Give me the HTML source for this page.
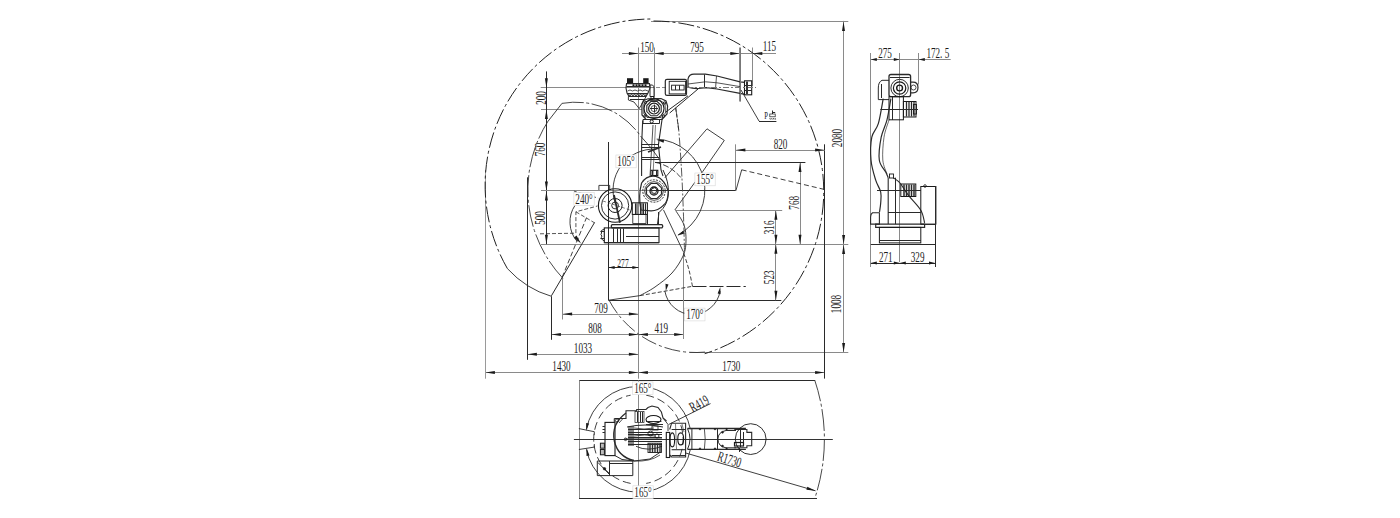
<!DOCTYPE html>
<html><head><meta charset="utf-8"><style>
html,body{margin:0;padding:0;background:#fff;width:1400px;height:518px;overflow:hidden}
svg{display:block}
text{font-family:"Liberation Serif",serif}
</style></head><body>
<svg width="1400" height="518" viewBox="0 0 1400 518" shape-rendering="geometricPrecision">
<line x1="622.0" y1="53.5" x2="776.0" y2="53.5" stroke="#8a8a8a" stroke-width="1.0"/>
<polygon points="638.4,53.5 628.9,55.0 628.9,52.0" fill="#1a1a1a"/>
<polygon points="654.2,53.5 663.7,52.0 663.7,55.0" fill="#1a1a1a"/>
<polygon points="739.8,53.5 730.3,55.0 730.3,52.0" fill="#1a1a1a"/>
<polygon points="752.8,53.5 762.3,52.0 762.3,55.0" fill="#1a1a1a"/>
<line x1="638.5" y1="47.5" x2="638.5" y2="378.7" stroke="#8a8a8a" stroke-width="1.0"/>
<line x1="654.5" y1="47.5" x2="654.5" y2="100.0" stroke="#8a8a8a" stroke-width="1.0"/>
<line x1="739.5" y1="47.5" x2="739.5" y2="101.5" stroke="#8a8a8a" stroke-width="1.0"/>
<line x1="752.5" y1="47.5" x2="752.5" y2="86.0" stroke="#8a8a8a" stroke-width="1.0"/>
<g transform="translate(647.0,47.3) rotate(0) scale(0.63,1)"><text x="0" y="4.9" text-anchor="middle" font-size="14.5" fill="#1a1a1a">150</text></g>
<g transform="translate(697.0,47.0) rotate(0) scale(0.63,1)"><text x="0" y="4.9" text-anchor="middle" font-size="14.5" fill="#1a1a1a">795</text></g>
<g transform="translate(769.5,46.5) rotate(0) scale(0.63,1)"><text x="0" y="4.9" text-anchor="middle" font-size="14.5" fill="#1a1a1a">115</text></g>
<line x1="651.0" y1="21.5" x2="848.3" y2="21.5" stroke="#8a8a8a" stroke-width="1.0"/>
<line x1="843.5" y1="20.9" x2="843.5" y2="352.5" stroke="#8a8a8a" stroke-width="1.0"/>
<polygon points="843.5,21.5 845.0,31.0 842.0,31.0" fill="#1a1a1a"/>
<polygon points="843.6,244.4 842.1,234.9 845.1,234.9" fill="#1a1a1a"/>
<polygon points="843.6,244.4 845.1,253.9 842.1,253.9" fill="#1a1a1a"/>
<polygon points="843.6,352.5 842.1,343.0 845.1,343.0" fill="#1a1a1a"/>
<g transform="translate(837.3,138.0) rotate(-90) scale(0.63,1)"><text x="0" y="4.9" text-anchor="middle" font-size="14.5" fill="#1a1a1a">2080</text></g>
<g transform="translate(836.3,304.0) rotate(-90) scale(0.63,1)"><text x="0" y="4.9" text-anchor="middle" font-size="14.5" fill="#1a1a1a">1008</text></g>
<line x1="541.0" y1="244.5" x2="848.3" y2="244.5" stroke="#8a8a8a" stroke-width="1.0"/>
<line x1="690.0" y1="352.5" x2="848.3" y2="352.5" stroke="#8a8a8a" stroke-width="1.0"/>
<line x1="540.7" y1="87.5" x2="650.0" y2="87.5" stroke="#8a8a8a" stroke-width="1.0"/>
<line x1="650.0" y1="87.5" x2="668.0" y2="87.5" stroke="#8a8a8a" stroke-width="1.0" stroke-dasharray="4,2"/>
<line x1="541.0" y1="109.5" x2="642.0" y2="109.5" stroke="#8a8a8a" stroke-width="1.0"/>
<line x1="546.5" y1="71.4" x2="546.5" y2="244.2" stroke="#2a2a2a" stroke-width="1.0"/>
<polygon points="546.4,87.8 544.9,78.3 547.9,78.3" fill="#1a1a1a"/>
<polygon points="546.4,109.4 547.9,118.9 544.9,118.9" fill="#1a1a1a"/>
<polygon points="546.4,190.9 544.9,181.4 547.9,181.4" fill="#1a1a1a"/>
<polygon points="546.4,190.9 547.9,200.4 544.9,200.4" fill="#1a1a1a"/>
<polygon points="546.4,244.2 544.9,234.7 547.9,234.7" fill="#1a1a1a"/>
<g transform="translate(540.6,98.0) rotate(-90) scale(0.63,1)"><text x="0" y="4.9" text-anchor="middle" font-size="14.5" fill="#1a1a1a">200</text></g>
<g transform="translate(540.4,149.5) rotate(-90) scale(0.63,1)"><text x="0" y="4.9" text-anchor="middle" font-size="14.5" fill="#1a1a1a">760</text></g>
<g transform="translate(540.4,218.0) rotate(-90) scale(0.63,1)"><text x="0" y="4.9" text-anchor="middle" font-size="14.5" fill="#1a1a1a">500</text></g>
<line x1="541.0" y1="190.5" x2="650.0" y2="190.5" stroke="#8a8a8a" stroke-width="1.0"/>
<line x1="650.0" y1="190.5" x2="736.0" y2="190.5" stroke="#2a2a2a" stroke-width="1.0"/>
<line x1="608.6" y1="267.5" x2="638.4" y2="267.5" stroke="#2a2a2a" stroke-width="1.0"/>
<polygon points="608.6,267.5 614.6,266.0 614.6,269.0" fill="#1a1a1a"/>
<polygon points="638.4,267.5 632.4,269.0 632.4,266.0" fill="#1a1a1a"/>
<g transform="translate(623.0,262.8) rotate(0) scale(0.63,1)"><text x="0" y="4.1" text-anchor="middle" font-size="12" fill="#1a1a1a">277</text></g>
<line x1="608.5" y1="142.0" x2="608.5" y2="300.2" stroke="#2a2a2a" stroke-width="1.0"/>
<line x1="608.6" y1="300.5" x2="781.3" y2="300.5" stroke="#2a2a2a" stroke-width="1.0"/>
<line x1="562.6" y1="314.5" x2="638.4" y2="314.5" stroke="#8a8a8a" stroke-width="1.0"/>
<polygon points="562.6,314.1 572.1,312.6 572.1,315.6" fill="#1a1a1a"/>
<polygon points="638.4,314.1 628.9,315.6 628.9,312.6" fill="#1a1a1a"/>
<g transform="translate(601.0,308.0) rotate(0) scale(0.63,1)"><text x="0" y="4.9" text-anchor="middle" font-size="14.5" fill="#1a1a1a">709</text></g>
<line x1="562.5" y1="277.8" x2="562.5" y2="319.5" stroke="#8a8a8a" stroke-width="1.0"/>
<line x1="551.4" y1="334.5" x2="683.7" y2="334.5" stroke="#8a8a8a" stroke-width="1.0"/>
<polygon points="551.4,334.4 560.9,332.9 560.9,335.9" fill="#1a1a1a"/>
<polygon points="638.4,334.4 628.9,335.9 628.9,332.9" fill="#1a1a1a"/>
<polygon points="638.4,334.4 647.9,332.9 647.9,335.9" fill="#1a1a1a"/>
<polygon points="683.7,334.4 674.2,335.9 674.2,332.9" fill="#1a1a1a"/>
<g transform="translate(595.0,328.0) rotate(0) scale(0.63,1)"><text x="0" y="4.9" text-anchor="middle" font-size="14.5" fill="#1a1a1a">808</text></g>
<g transform="translate(661.3,327.8) rotate(0) scale(0.63,1)"><text x="0" y="4.9" text-anchor="middle" font-size="14.5" fill="#1a1a1a">419</text></g>
<line x1="551.5" y1="296.3" x2="551.5" y2="339.8" stroke="#2a2a2a" stroke-width="1.0"/>
<line x1="527.4" y1="354.5" x2="638.4" y2="354.5" stroke="#8a8a8a" stroke-width="1.0"/>
<polygon points="527.4,354.3 536.9,352.8 536.9,355.8" fill="#1a1a1a"/>
<polygon points="638.4,354.3 628.9,355.8 628.9,352.8" fill="#1a1a1a"/>
<g transform="translate(583.0,348.2) rotate(0) scale(0.63,1)"><text x="0" y="4.9" text-anchor="middle" font-size="14.5" fill="#1a1a1a">1033</text></g>
<line x1="527.5" y1="177.3" x2="527.5" y2="359.8" stroke="#2a2a2a" stroke-width="1.0"/>
<line x1="485.4" y1="372.5" x2="824.6" y2="372.5" stroke="#8a8a8a" stroke-width="1.0"/>
<polygon points="485.4,372.5 494.9,371.0 494.9,374.0" fill="#1a1a1a"/>
<polygon points="638.4,372.5 628.9,374.0 628.9,371.0" fill="#1a1a1a"/>
<polygon points="638.4,372.5 647.9,371.0 647.9,374.0" fill="#1a1a1a"/>
<polygon points="824.6,372.5 815.1,374.0 815.1,371.0" fill="#1a1a1a"/>
<g transform="translate(561.5,366.0) rotate(0) scale(0.63,1)"><text x="0" y="4.9" text-anchor="middle" font-size="14.5" fill="#1a1a1a">1430</text></g>
<g transform="translate(731.3,366.5) rotate(0) scale(0.63,1)"><text x="0" y="4.9" text-anchor="middle" font-size="14.5" fill="#1a1a1a">1730</text></g>
<line x1="485.5" y1="170.0" x2="485.5" y2="378.7" stroke="#9a9a9a" stroke-width="1.0"/>
<line x1="683.5" y1="251.0" x2="683.5" y2="339.0" stroke="#8a8a8a" stroke-width="1.0"/>
<line x1="824.5" y1="144.3" x2="824.5" y2="378.6" stroke="#2a2a2a" stroke-width="1.0"/>
<line x1="735.9" y1="150.5" x2="824.6" y2="150.5" stroke="#8a8a8a" stroke-width="1.0"/>
<polygon points="735.9,150.1 745.4,148.6 745.4,151.6" fill="#1a1a1a"/>
<polygon points="824.6,150.1 815.1,151.6 815.1,148.6" fill="#1a1a1a"/>
<g transform="translate(780.5,143.7) rotate(0) scale(0.63,1)"><text x="0" y="4.9" text-anchor="middle" font-size="14.5" fill="#1a1a1a">820</text></g>
<line x1="735.5" y1="144.3" x2="735.5" y2="190.7" stroke="#8a8a8a" stroke-width="1.0"/>
<line x1="800.5" y1="162.4" x2="800.5" y2="244.2" stroke="#8a8a8a" stroke-width="1.0"/>
<polygon points="800.0,162.4 801.5,171.9 798.5,171.9" fill="#1a1a1a"/>
<polygon points="800.0,244.2 798.5,234.7 801.5,234.7" fill="#1a1a1a"/>
<g transform="translate(793.8,202.8) rotate(-90) scale(0.63,1)"><text x="0" y="4.9" text-anchor="middle" font-size="14.5" fill="#1a1a1a">768</text></g>
<line x1="775.5" y1="210.3" x2="775.5" y2="300.2" stroke="#8a8a8a" stroke-width="1.0"/>
<polygon points="775.9,210.3 777.4,219.8 774.4,219.8" fill="#1a1a1a"/>
<polygon points="775.9,244.2 774.4,234.7 777.4,234.7" fill="#1a1a1a"/>
<polygon points="775.9,244.2 777.4,253.7 774.4,253.7" fill="#1a1a1a"/>
<polygon points="775.9,300.2 774.4,290.7 777.4,290.7" fill="#1a1a1a"/>
<g transform="translate(769.0,227.4) rotate(-90) scale(0.63,1)"><text x="0" y="4.9" text-anchor="middle" font-size="14.5" fill="#1a1a1a">316</text></g>
<g transform="translate(769.0,277.3) rotate(-90) scale(0.63,1)"><text x="0" y="4.9" text-anchor="middle" font-size="14.5" fill="#1a1a1a">523</text></g>
<line x1="655.0" y1="162.5" x2="805.4" y2="162.5" stroke="#2a2a2a" stroke-width="1.0"/>
<line x1="675.5" y1="210.5" x2="782.2" y2="210.5" stroke="#8a8a8a" stroke-width="1.0"/>
<path d="M507.4,268.6 A166.4,166.4 0 0 1 651.5,19.0" fill="none" stroke="#222" stroke-width="1.0" stroke-dasharray="16,3,3,3"/>
<path d="M653.5,21.0 A170.3,170.3 0 0 1 704.7,353.7" fill="none" stroke="#222" stroke-width="1.0" stroke-dasharray="16,3,3,3"/>
<path d="M507.4,268.6 Q526,289 551.4,296.3" fill="none" stroke="#2a2a2a" stroke-width="0.9"/>
<path d="M705.0,352.1 A98,98 0 0 1 609.0,300.1" fill="none" stroke="#333" stroke-width="0.9" stroke-dasharray="16,3,3,3"/>
<path d="M562.9,278.3 A128.4,128.4 0 0 1 548.0,121.2" fill="none" stroke="#333" stroke-width="0.9" stroke-dasharray="22,2.5,3,2.5"/>
<line x1="548.0" y1="121.3" x2="561.9" y2="103.5" stroke="#2a2a2a" stroke-width="0.9"/>
<path d="M561.8,103.4 A79.4,79.4 0 0 1 640.6,136.1" fill="none" stroke="#333" stroke-width="0.9" stroke-dasharray="22,2.5,3,2.5"/>
<polyline points="540.0,233.8 575.9,233.2 575.9,211.8 597.4,206.0" fill="none" stroke="#2a2a2a" stroke-width="0.8" stroke-dasharray="4,2"/>
<line x1="575.9" y1="211.8" x2="594.5" y2="222.8" stroke="#2a2a2a" stroke-width="0.8" stroke-dasharray="4,2"/>
<line x1="551.4" y1="295.8" x2="594.6" y2="222.4" stroke="#2a2a2a" stroke-width="1.0"/>
<line x1="562.2" y1="277.2" x2="586.5" y2="217.7" stroke="#2a2a2a" stroke-width="0.9" stroke-dasharray="5,2.5"/>
<path d="M577.0,241.3 A30,30 0 0 1 575.1,205.2" fill="none" stroke="#2a2a2a" stroke-width="0.9"/>
<polygon points="581.0,243.5 573.9,237.7 576.5,235.5" fill="#1a1a1a"/>
<line x1="573.9" y1="191.1" x2="598.2" y2="198.1" stroke="#2a2a2a" stroke-width="0.8" stroke-dasharray="3,2"/>
<g transform="translate(584.0,199.0) rotate(0)"><rect x="-10.1" y="-6.4" width="20.3" height="12.8" fill="#fff" stroke="#d8d8d8" stroke-width="0.6"/></g>
<g transform="translate(584.0,199.0) rotate(0) scale(0.63,1)"><text x="0" y="4.9" text-anchor="middle" font-size="14.5" fill="#1a1a1a">240°</text></g>
<line x1="608.6" y1="300.2" x2="640.0" y2="295.6" stroke="#2a2a2a" stroke-width="0.9"/>
<line x1="640.0" y1="295.6" x2="692.5" y2="286.3" stroke="#2a2a2a" stroke-width="0.9" stroke-dasharray="4,2"/>
<line x1="692.5" y1="286.5" x2="745.8" y2="286.5" stroke="#2a2a2a" stroke-width="1.0" stroke-dasharray="14,3"/>
<path d="M692.5,286.3 C691.9,283.6 690.5,275.8 689.0,270.0 C687.5,264.2 684.2,254.6 683.2,251.5" fill="none" stroke="#2a2a2a" stroke-width="0.9" stroke-dasharray="4,2"/>
<path d="M675.7,210.5 C677.1,212.9 682.3,220.1 684.0,225.0 C685.7,229.9 686.1,235.0 686.0,240.0 C685.9,245.0 685.8,249.5 683.5,255.0 C681.2,260.5 676.8,267.7 672.0,273.0 C667.2,278.3 660.3,283.2 655.0,287.0 C649.7,290.8 642.5,294.2 640.0,295.6" fill="none" stroke="#2a2a2a" stroke-width="0.9"/>
<line x1="663.5" y1="209.9" x2="683.2" y2="251.5" stroke="#2a2a2a" stroke-width="0.9"/>
<path d="M720.1,291.2 A28,28 0 0 1 664.9,291.2" fill="none" stroke="#2a2a2a" stroke-width="0.9"/>
<polygon points="665.8,291.0 665.5,283.8 668.5,284.4" fill="#1a1a1a"/>
<polygon points="720.3,287.0 720.6,294.2 717.6,293.6" fill="#1a1a1a"/>
<g transform="translate(694.8,314.5) rotate(0)"><rect x="-10.1" y="-6.4" width="20.3" height="12.8" fill="#fff" stroke="#d8d8d8" stroke-width="0.6"/></g>
<g transform="translate(694.8,314.5) rotate(0) scale(0.63,1)"><text x="0" y="4.9" text-anchor="middle" font-size="14.5" fill="#1a1a1a">170°</text></g>
<line x1="741.7" y1="169.8" x2="735.9" y2="190.7" stroke="#2a2a2a" stroke-width="0.9"/>
<path d="M741.7,169.8 L824.6,189.5" fill="none" stroke="#2a2a2a" stroke-width="0.9" stroke-dasharray="5,3"/>
<polyline points="707.0,128.8 724.3,140.4 702.6,171.7" fill="none" stroke="#2a2a2a" stroke-width="0.9"/>
<line x1="707.0" y1="128.8" x2="664.8" y2="177.9" stroke="#2a2a2a" stroke-width="0.9"/>
<line x1="702.6" y1="171.7" x2="674.8" y2="210.0" stroke="#2a2a2a" stroke-width="0.9"/>
<path d="M656.7,139.1 A51,51 0 0 1 677.9,235.0" fill="none" stroke="#2a2a2a" stroke-width="0.9"/>
<polygon points="657.0,140.0 664.2,139.7 663.6,142.7" fill="#1a1a1a"/>
<polygon points="677.8,235.6 683.1,230.8 684.6,233.4" fill="#1a1a1a"/>
<g transform="translate(705.0,179.4) rotate(0)"><rect x="-10.1" y="-6.4" width="20.3" height="12.8" fill="#fff" stroke="#d8d8d8" stroke-width="0.6"/></g>
<g transform="translate(705.0,179.4) rotate(0) scale(0.63,1)"><text x="0" y="4.9" text-anchor="middle" font-size="14.5" fill="#1a1a1a">155°</text></g>
<path d="M615.5,204.0 A41,41 0 0 1 656.1,149.1" fill="none" stroke="#2a2a2a" stroke-width="0.9"/>
<g transform="translate(626.0,161.4) rotate(0)"><rect x="-10.1" y="-6.4" width="20.3" height="12.8" fill="#fff" stroke="#d8d8d8" stroke-width="0.6"/></g>
<g transform="translate(626.0,161.4) rotate(0) scale(0.63,1)"><text x="0" y="4.9" text-anchor="middle" font-size="14.5" fill="#1a1a1a">105°</text></g>
<line x1="608.5" y1="142.4" x2="608.5" y2="300.0" stroke="#2a2a2a" stroke-width="1.0"/>
<path d="M675.7,107.9 C676.2,111.6 677.7,119.7 678.7,130.0 C679.7,140.3 680.7,156.7 681.5,170.0 C682.3,183.3 682.8,196.5 683.3,210.0 C683.8,223.5 684.3,244.2 684.5,251.0" fill="none" stroke="#444" stroke-width="0.9" stroke-dasharray="9,2,2,2"/>
<path d="M612,224.6 L662,224.6 Q663.5,226.2 662,227.8 L612,227.8 Q610.5,226.2 612,224.6 Z" fill="none" stroke="#2a2a2a" stroke-width="1.2"/>
<rect x="604.3" y="227.9" width="54.7" height="14.7" fill="none" stroke="#1a1a1a" stroke-width="1.1"/>
<line x1="604.3" y1="242.6" x2="659.0" y2="242.6" stroke="#2a2a2a" stroke-width="1.4"/>
<line x1="613.5" y1="228.5" x2="613.5" y2="242.0" stroke="#2a2a2a" stroke-width="1.0"/>
<line x1="617.5" y1="228.5" x2="617.5" y2="242.0" stroke="#2a2a2a" stroke-width="1.0"/>
<line x1="620.5" y1="228.5" x2="620.5" y2="242.0" stroke="#2a2a2a" stroke-width="1.0"/>
<line x1="623.5" y1="228.5" x2="623.5" y2="242.0" stroke="#2a2a2a" stroke-width="1.0"/>
<path d="M604.3,229 Q600,230 601.5,233 Q600,235 602,236 Q600,239 604.3,241" fill="none" stroke="#2a2a2a" stroke-width="1.0"/>
<line x1="600.4" y1="231.5" x2="604.3" y2="231.5" stroke="#2a2a2a" stroke-width="1.0"/>
<line x1="600.4" y1="238.5" x2="604.3" y2="238.5" stroke="#2a2a2a" stroke-width="1.0"/>
<line x1="626.0" y1="236.5" x2="659.0" y2="236.5" stroke="#2a2a2a" stroke-width="1.0"/>
<circle cx="615.1" cy="205.5" r="16.7" fill="none" stroke="#1a1a1a" stroke-width="1.1"/>
<circle cx="615.1" cy="205.5" r="13.6" fill="none" stroke="#1a1a1a" stroke-width="0.9"/>
<circle cx="615.1" cy="205.5" r="7.0" fill="none" stroke="#1a1a1a" stroke-width="1.0"/>
<circle cx="615.1" cy="205.5" r="3.4" fill="none" stroke="#1a1a1a" stroke-width="0.9"/>
<polyline points="598.9,190.0 598.9,185.4 609.7,185.4 609.7,190.0" fill="none" stroke="#2a2a2a" stroke-width="0.9"/>
<line x1="614.0" y1="195.0" x2="620.0" y2="222.8" stroke="#2a2a2a" stroke-width="1.8"/>
<line x1="603.0" y1="201.0" x2="630.0" y2="210.0" stroke="#2a2a2a" stroke-width="0.6" stroke-dasharray="3,2"/>
<path d="M641.6,183 Q646,176 653.2,176.1 Q663,176 668.3,191.2 Q668,202 663.6,205.1 Q658,211 650.9,210.9 L641,210 Q638,196 641.6,183 Z" fill="none" stroke="#2a2a2a" stroke-width="1.2"/>
<circle cx="654" cy="191" r="11.2" fill="none" stroke="#1a1a1a" stroke-width="0.9" stroke-dasharray="2,1.2"/>
<circle cx="654" cy="191" r="9.3" fill="none" stroke="#1a1a1a" stroke-width="0.8"/>
<polygon points="650.9,183.5 657.1,183.5 661.5,187.9 661.5,194.1 657.1,198.5 650.9,198.5 646.5,194.1 646.5,187.9" fill="none" stroke="#2a2a2a" stroke-width="1.2"/>
<circle cx="654" cy="191" r="4" fill="none" stroke="#1a1a1a" stroke-width="1.3"/>
<path d="M651.5,189 L655,187.5 L657,190 L655.5,193.5 L652,193 Z" fill="none" stroke="#2a2a2a" stroke-width="1.0"/>
<rect x="650.9" y="170.3" width="6.9" height="5.2" fill="none" stroke="#1a1a1a" stroke-width="1.1"/>
<line x1="652.5" y1="170.5" x2="652.5" y2="175.5" stroke="#2a2a2a" stroke-width="1.0"/>
<line x1="656.5" y1="170.5" x2="656.5" y2="175.5" stroke="#2a2a2a" stroke-width="1.0"/>
<rect x="632.3" y="202.8" width="15.1" height="11.6" fill="none" stroke="#1a1a1a" stroke-width="1.0"/>
<line x1="635.5" y1="203.3" x2="635.5" y2="214.0" stroke="#2a2a2a" stroke-width="1.1"/>
<line x1="637.0" y1="203.3" x2="637.0" y2="214.0" stroke="#2a2a2a" stroke-width="1.1"/>
<line x1="640.5" y1="203.3" x2="640.5" y2="214.0" stroke="#2a2a2a" stroke-width="1.1"/>
<line x1="642.0" y1="203.3" x2="642.0" y2="214.0" stroke="#2a2a2a" stroke-width="1.1"/>
<line x1="643.5" y1="203.3" x2="643.5" y2="214.0" stroke="#2a2a2a" stroke-width="1.1"/>
<line x1="645.5" y1="203.3" x2="645.5" y2="214.0" stroke="#2a2a2a" stroke-width="1.1"/>
<rect x="632.8" y="214.4" width="13.2" height="9" fill="none" stroke="#1a1a1a" stroke-width="0.8"/>
<line x1="647.5" y1="211.7" x2="647.5" y2="224.0" stroke="#2a2a2a" stroke-width="1.0"/>
<line x1="658.5" y1="212.0" x2="658.5" y2="224.0" stroke="#2a2a2a" stroke-width="1.0"/>
<path d="M663,170 Q669,182 668.4,193.2 Q668,205 659,212.5 L657.5,224" fill="none" stroke="#2a2a2a" stroke-width="1.0"/>
<path d="M642.7,120.4 L641.6,145 L641.6,176" fill="none" stroke="#2a2a2a" stroke-width="1.1"/>
<path d="M662.4,117 L658.4,144.8 L661,170 L663,176" fill="none" stroke="#2a2a2a" stroke-width="1.1"/>
<line x1="653.0" y1="125.0" x2="650.0" y2="176.0" stroke="#2a2a2a" stroke-width="0.8"/>
<line x1="655.5" y1="125.0" x2="653.0" y2="176.0" stroke="#2a2a2a" stroke-width="0.6"/>
<line x1="641.8" y1="144.5" x2="659.0" y2="144.5" stroke="#2a2a2a" stroke-width="1.0"/>
<line x1="641.8" y1="147.5" x2="659.0" y2="147.5" stroke="#2a2a2a" stroke-width="1.0"/>
<line x1="641.8" y1="157.5" x2="659.0" y2="157.5" stroke="#2a2a2a" stroke-width="1.0"/>
<line x1="641.8" y1="159.5" x2="659.0" y2="159.5" stroke="#2a2a2a" stroke-width="1.0"/>
<line x1="648.0" y1="152.0" x2="661.0" y2="147.0" stroke="#2a2a2a" stroke-width="1.6"/>
<path d="M643.5,100.5 L648,98.8 L661,98.5 L666,101 L667.6,106 L667,114 L662,119.5 L646,119.5 L642,115 L641.9,104 Z" fill="none" stroke="#2a2a2a" stroke-width="1.2"/>
<path d="M645,102 L650,100.5 L660,100.5 L665,103.5 L665.5,113 L661,117.5 L647,117.5 L643.8,113.5 L643.8,104 Z" fill="none" stroke="#2a2a2a" stroke-width="0.8"/>
<circle cx="654" cy="108.6" r="10.0" fill="none" stroke="#1a1a1a" stroke-width="1.1"/>
<polygon points="651.0,101.4 657.0,101.4 661.2,105.6 661.2,111.6 657.0,115.8 651.0,115.8 646.8,111.6 646.8,105.6" fill="none" stroke="#2a2a2a" stroke-width="1.1"/>
<circle cx="654" cy="108.6" r="5.4" fill="none" stroke="#1a1a1a" stroke-width="1.2"/>
<circle cx="654" cy="108.6" r="3.0" fill="none" stroke="#1a1a1a" stroke-width="0.7"/>
<line x1="650.0" y1="108.5" x2="658.0" y2="108.5" stroke="#2a2a2a" stroke-width="1.0"/>
<line x1="654.5" y1="104.6" x2="654.5" y2="112.6" stroke="#2a2a2a" stroke-width="1.0"/>
<circle cx="645.5" cy="102.5" r="1.2" fill="none" stroke="#1a1a1a" stroke-width="0.9"/>
<circle cx="664.5" cy="103" r="1.2" fill="none" stroke="#1a1a1a" stroke-width="0.9"/>
<circle cx="645" cy="116" r="1.2" fill="none" stroke="#1a1a1a" stroke-width="0.9"/>
<circle cx="663.5" cy="116" r="1.2" fill="none" stroke="#1a1a1a" stroke-width="0.9"/>
<path d="M643,119.5 L659.5,119.5 L659.5,123.5 L643,123.5 Z" fill="none" stroke="#2a2a2a" stroke-width="1.0"/>
<circle cx="651.7" cy="121.5" r="1.6" fill="none" stroke="#1a1a1a" stroke-width="1.0"/>
<rect x="627" y="78.2" width="6.1" height="5.4" fill="#1a1a1a" stroke="#1a1a1a" stroke-width="0"/>
<rect x="643.2" y="78.2" width="5.4" height="5.4" fill="#1a1a1a" stroke="#1a1a1a" stroke-width="0"/>
<path d="M626.5,83.6 L649.5,83.6 L650,88 L648,93.1 L646,96.5 L629,96.5 L627,93.1 L626,88 Z" fill="none" stroke="#2a2a2a" stroke-width="1.1"/>
<rect x="632.5" y="84.3" width="2" height="2" fill="#1a1a1a" stroke="#1a1a1a" stroke-width="0"/>
<rect x="635.5" y="84.3" width="2" height="2" fill="#1a1a1a" stroke="#1a1a1a" stroke-width="0"/>
<rect x="638.5" y="84.3" width="2" height="2" fill="#1a1a1a" stroke="#1a1a1a" stroke-width="0"/>
<rect x="641.5" y="84.3" width="2" height="2" fill="#1a1a1a" stroke="#1a1a1a" stroke-width="0"/>
<rect x="644.5" y="84.3" width="2" height="2" fill="#1a1a1a" stroke="#1a1a1a" stroke-width="0"/>
<line x1="626.5" y1="86.5" x2="649.5" y2="86.5" stroke="#2a2a2a" stroke-width="1.0"/>
<path d="M627.5,91 Q630,89 632.5,91 Q635,89 637.5,91 Q640,89 642.5,91 Q645,89 648,91" fill="none" stroke="#2a2a2a" stroke-width="0.8"/>
<circle cx="630" cy="94.5" r="1.1" fill="none" stroke="#1a1a1a" stroke-width="0.9"/>
<circle cx="633" cy="94.5" r="1.1" fill="none" stroke="#1a1a1a" stroke-width="0.9"/>
<circle cx="636" cy="94.5" r="1.1" fill="none" stroke="#1a1a1a" stroke-width="0.9"/>
<circle cx="639" cy="94.5" r="1.1" fill="none" stroke="#1a1a1a" stroke-width="0.9"/>
<circle cx="642" cy="94.5" r="1.1" fill="none" stroke="#1a1a1a" stroke-width="0.9"/>
<circle cx="645" cy="94.5" r="1.1" fill="none" stroke="#1a1a1a" stroke-width="0.9"/>
<line x1="627.0" y1="93.5" x2="648.0" y2="93.5" stroke="#2a2a2a" stroke-width="1.0"/>
<path d="M628.4,96.5 L646,96.5 L644,100.5 L639.2,108.6 L634,102 L628.4,100 Z" fill="none" stroke="#2a2a2a" stroke-width="0.9"/>
<line x1="630.0" y1="99.5" x2="645.0" y2="99.5" stroke="#2a2a2a" stroke-width="1.0"/>
<path d="M650,85 L652.5,85 Q654,86 654,88 L654,96.5 L650,96.5 Z" fill="none" stroke="#2a2a2a" stroke-width="1.0"/>
<rect x="651" y="96.5" width="2.5" height="3" fill="none" stroke="#1a1a1a" stroke-width="0.8"/>
<path d="M667,79.4 L685,79.4 Q686.5,79.4 686.5,81 L686.5,93.7 Q686.5,95.3 685,95.3 L667,95.3 Q665.3,95.3 665.3,93.7 L665.3,81 Q665.3,79.4 667,79.4 Z" fill="none" stroke="#2a2a2a" stroke-width="1.2"/>
<rect x="669.2" y="81.3" width="16.4" height="12.6" fill="none" stroke="#1a1a1a" stroke-width="0.9"/>
<rect x="671.6" y="85.2" width="12.5" height="4.8" fill="none" stroke="#1a1a1a" stroke-width="0.9"/>
<line x1="675.5" y1="85.2" x2="675.5" y2="90.0" stroke="#2a2a2a" stroke-width="1.0"/>
<line x1="679.5" y1="85.2" x2="679.5" y2="90.0" stroke="#2a2a2a" stroke-width="1.0"/>
<path d="M688,87.1 L688,79 Q689,74.1 694,74.1 L705.4,74.1 L717,76 L740.1,81.8 L744.5,82.3" fill="none" stroke="#2a2a2a" stroke-width="1.2"/>
<path d="M688,87.1 Q693,88.8 698.6,88.5 L706.3,87.6 L717,89 L740.1,93.4 L744.5,94.3" fill="none" stroke="#2a2a2a" stroke-width="1.2"/>
<path d="M688,84 L705.4,81.8 L717,82.8 L740,86.6" fill="none" stroke="#2a2a2a" stroke-width="0.8"/>
<line x1="704.5" y1="74.5" x2="704.5" y2="87.7" stroke="#2a2a2a" stroke-width="1.0"/>
<line x1="716.5" y1="76.0" x2="715.5" y2="88.8" stroke="#2a2a2a" stroke-width="0.8"/>
<rect x="744.5" y="80.8" width="7.2" height="14" fill="none" stroke="#1a1a1a" stroke-width="1.1"/>
<line x1="744.5" y1="85.5" x2="751.7" y2="85.5" stroke="#2a2a2a" stroke-width="1.0"/>
<line x1="744.5" y1="90.5" x2="751.7" y2="90.5" stroke="#2a2a2a" stroke-width="1.0"/>
<line x1="740.5" y1="47.5" x2="740.5" y2="101.6" stroke="#777" stroke-width="1.0"/>
<line x1="741.0" y1="90.0" x2="759.0" y2="121.0" stroke="#2a2a2a" stroke-width="0.9"/>
<line x1="759.0" y1="121.5" x2="776.4" y2="121.5" stroke="#2a2a2a" stroke-width="1.0"/>
<g transform="translate(766.0,115.3) rotate(0) scale(0.6,1)"><text x="0" y="3.7" text-anchor="middle" font-size="11" fill="#1a1a1a">P</text></g>
<line x1="772.5" y1="110.5" x2="772.5" y2="114.0" stroke="#2a2a2a" stroke-width="1.0"/>
<line x1="772.3" y1="112.5" x2="775.2" y2="112.5" stroke="#2a2a2a" stroke-width="1.0"/>
<rect x="769.8" y="114" width="5.4" height="2.8" fill="none" stroke="#1a1a1a" stroke-width="0.7"/>
<line x1="769.8" y1="118.0" x2="770.4" y2="119.6" stroke="#2a2a2a" stroke-width="0.8"/>
<line x1="771.6" y1="118.0" x2="772.2" y2="119.6" stroke="#2a2a2a" stroke-width="0.8"/>
<line x1="773.4" y1="118.0" x2="774.0" y2="119.6" stroke="#2a2a2a" stroke-width="0.8"/>
<line x1="775.0" y1="118.0" x2="775.6" y2="119.6" stroke="#2a2a2a" stroke-width="0.8"/>
<line x1="665.8" y1="112.0" x2="688.0" y2="95.8" stroke="#2a2a2a" stroke-width="1.0"/>
<line x1="669.7" y1="113.0" x2="698.6" y2="88.5" stroke="#2a2a2a" stroke-width="1.0"/>
<line x1="675.7" y1="107.9" x2="678.7" y2="130.0" stroke="#2a2a2a" stroke-width="0.9" stroke-dasharray="4,2"/>
<line x1="579.0" y1="380.5" x2="815.0" y2="380.5" stroke="#2a2a2a" stroke-width="1.0"/>
<line x1="579.5" y1="380.4" x2="579.5" y2="498.4" stroke="#8a8a8a" stroke-width="1.0"/>
<line x1="579.0" y1="498.5" x2="817.0" y2="498.5" stroke="#2a2a2a" stroke-width="1.0"/>
<line x1="638.5" y1="380.5" x2="638.5" y2="498.0" stroke="#8a8a8a" stroke-width="1.0"/>
<line x1="573.9" y1="439.5" x2="832.8" y2="439.5" stroke="#333" stroke-width="1.0"/>
<path d="M814.7,380.0 A186,186 0 0 1 814.7,498.6" fill="none" stroke="#333" stroke-width="0.9" stroke-dasharray="22,2.5,3,2.5"/>
<path d="M586.4,429.2 A53,53 0 0 1 690.4,429.2" fill="none" stroke="#2a2a2a" stroke-width="0.9"/>
<path d="M690.4,449.4 A53,53 0 0 1 586.4,449.4" fill="none" stroke="#2a2a2a" stroke-width="0.9"/>
<path d="M630.6,483.4 A44.8,44.8 0 0 1 630.6,395.2" fill="none" stroke="#2a2a2a" stroke-width="0.9" stroke-dasharray="8,4"/>
<path d="M646.2,395.2 A44.8,44.8 0 0 1 646.2,483.4" fill="none" stroke="#2a2a2a" stroke-width="0.9" stroke-dasharray="8,4"/>
<g transform="translate(642.8,388.3) rotate(0)"><rect x="-10.1" y="-6.4" width="20.3" height="12.8" fill="#fff" stroke="#d8d8d8" stroke-width="0.6"/></g>
<g transform="translate(642.8,388.3) rotate(0) scale(0.63,1)"><text x="0" y="4.9" text-anchor="middle" font-size="14.5" fill="#1a1a1a">165°</text></g>
<g transform="translate(643.0,492.2) rotate(0)"><rect x="-10.1" y="-6.4" width="20.3" height="12.8" fill="#fff" stroke="#d8d8d8" stroke-width="0.6"/></g>
<g transform="translate(643.0,492.2) rotate(0) scale(0.63,1)"><text x="0" y="4.9" text-anchor="middle" font-size="14.5" fill="#1a1a1a">165°</text></g>
<polygon points="586.2,431.0 586.1,422.9 589.1,423.4" fill="#1a1a1a"/>
<polygon points="586.6,448.0 589.5,455.6 586.5,456.1" fill="#1a1a1a"/>
<polyline points="578.9,428.6 594.3,431.7 594.3,434.8" fill="none" stroke="#2a2a2a" stroke-width="0.9"/>
<polyline points="578.9,449.5 594.3,447.1 594.3,444.0" fill="none" stroke="#2a2a2a" stroke-width="0.9"/>
<line x1="668.8" y1="424.4" x2="710.5" y2="403.6" stroke="#2a2a2a" stroke-width="0.9"/>
<g transform="translate(699.0,403.5) rotate(-28) scale(0.63,1)"><text x="0" y="4.9" text-anchor="middle" font-size="14.5" fill="#1a1a1a">R419</text></g>
<line x1="685.0" y1="452.8" x2="815.5" y2="490.8" stroke="#2a2a2a" stroke-width="0.9"/>
<polygon points="815.5,490.8 806.4,489.7 807.3,486.8" fill="#1a1a1a"/>
<g transform="translate(729.5,459.3) rotate(17) scale(0.63,1)"><text x="0" y="4.9" text-anchor="middle" font-size="14.5" fill="#1a1a1a">R1730</text></g>
<rect x="605" y="422.4" width="10" height="33.2" fill="none" stroke="#1a1a1a" stroke-width="1.1"/>
<line x1="602.5" y1="426.5" x2="605.0" y2="426.5" stroke="#2a2a2a" stroke-width="1.0"/>
<line x1="602.5" y1="429.5" x2="605.0" y2="429.5" stroke="#2a2a2a" stroke-width="1.0"/>
<line x1="602.5" y1="432.5" x2="605.0" y2="432.5" stroke="#2a2a2a" stroke-width="1.0"/>
<rect x="600.4" y="443.2" width="4" height="5" fill="#bbb" stroke="#1a1a1a" stroke-width="1.0"/>
<rect x="600.4" y="449.5" width="4" height="5.3" fill="#bbb" stroke="#1a1a1a" stroke-width="1.0"/>
<path d="M614.3,418.5 L626,418.5 L626,410.8 L636.7,410.8 L636.7,409.5 L646,409.5 L648,407.5 L652,406 L658,407.5 L661.4,412 L663,418 L666.5,421" fill="none" stroke="#2a2a2a" stroke-width="1.1"/>
<line x1="614.3" y1="418.5" x2="614.3" y2="422.4" stroke="#2a2a2a" stroke-width="1.1"/>
<path d="M626,413 Q611,424 614.3,441 Q618,457 634,460.5" fill="none" stroke="#2a2a2a" stroke-width="1.3"/>
<path d="M615,455.6 L622,459.5 L634,461 L650,459 L659.8,452.5" fill="none" stroke="#2a2a2a" stroke-width="1.0"/>
<path d="M634,461 Q650,462 660,455" fill="none" stroke="#2a2a2a" stroke-width="0.8"/>
<path d="M619,423 L623,418.5" fill="none" stroke="#2a2a2a" stroke-width="0.8"/>
<circle cx="617" cy="420.5" r="1.6" fill="none" stroke="#1a1a1a" stroke-width="0.9"/>
<ellipse cx="653.5" cy="419.5" rx="7.5" ry="4" fill="none" stroke="#1a1a1a" stroke-width="1.1"/>
<line x1="646.0" y1="421.5" x2="661.4" y2="421.5" stroke="#2a2a2a" stroke-width="1.0"/>
<line x1="646.0" y1="424.5" x2="663.0" y2="424.5" stroke="#2a2a2a" stroke-width="1.0"/>
<rect x="635" y="411.5" width="9" height="11" fill="none" stroke="#1a1a1a" stroke-width="0.7"/>
<line x1="637.5" y1="412.0" x2="637.5" y2="422.0" stroke="#2a2a2a" stroke-width="1.0"/>
<line x1="640.5" y1="412.0" x2="640.5" y2="422.0" stroke="#2a2a2a" stroke-width="1.0"/>
<line x1="642.5" y1="412.0" x2="642.5" y2="422.0" stroke="#2a2a2a" stroke-width="1.0"/>
<path d="M627,427 Q645,423 663,427" fill="none" stroke="#2a2a2a" stroke-width="1.0"/>
<line x1="628.0" y1="429.5" x2="662.0" y2="429.5" stroke="#2a2a2a" stroke-width="1.0"/>
<line x1="628.0" y1="432.5" x2="662.0" y2="432.5" stroke="#2a2a2a" stroke-width="1.0"/>
<line x1="628.0" y1="434.5" x2="662.0" y2="434.5" stroke="#2a2a2a" stroke-width="1.0"/>
<line x1="628.0" y1="437.5" x2="662.0" y2="437.5" stroke="#2a2a2a" stroke-width="1.0"/>
<line x1="628.0" y1="441.5" x2="662.0" y2="441.5" stroke="#2a2a2a" stroke-width="1.0"/>
<line x1="628.0" y1="444.5" x2="662.0" y2="444.5" stroke="#2a2a2a" stroke-width="1.0"/>
<line x1="629.0" y1="426.0" x2="629.0" y2="446.0" stroke="#2a2a2a" stroke-width="1.1"/>
<line x1="631.0" y1="426.0" x2="631.0" y2="446.0" stroke="#2a2a2a" stroke-width="1.1"/>
<line x1="633.0" y1="426.0" x2="633.0" y2="446.0" stroke="#2a2a2a" stroke-width="1.1"/>
<path d="M634,428 Q644,430 654,428 M634,436 Q645,434 655,436" fill="none" stroke="#2a2a2a" stroke-width="0.8"/>
<circle cx="650.5" cy="433.5" r="2.5" fill="none" stroke="#1a1a1a" stroke-width="0.9"/>
<circle cx="657" cy="436" r="2" fill="none" stroke="#1a1a1a" stroke-width="0.9"/>
<line x1="625.0" y1="439.3" x2="662.0" y2="439.3" stroke="#2a2a2a" stroke-width="1.4"/>
<circle cx="625.5" cy="439.3" r="1.3" fill="none" stroke="#1a1a1a" stroke-width="0.8"/>
<rect x="652" y="426" width="6" height="4" fill="none" stroke="#1a1a1a" stroke-width="0.8"/>
<path d="M636,446.3 Q648,452 662,446.3" fill="none" stroke="#2a2a2a" stroke-width="0.9"/>
<line x1="650.0" y1="443.5" x2="650.0" y2="452.5" stroke="#2a2a2a" stroke-width="1.4"/>
<line x1="652.5" y1="443.5" x2="652.5" y2="452.5" stroke="#2a2a2a" stroke-width="1.4"/>
<line x1="655.0" y1="443.5" x2="655.0" y2="452.5" stroke="#2a2a2a" stroke-width="1.4"/>
<line x1="657.5" y1="443.5" x2="657.5" y2="452.5" stroke="#2a2a2a" stroke-width="1.4"/>
<line x1="660.0" y1="443.5" x2="660.0" y2="452.5" stroke="#2a2a2a" stroke-width="1.4"/>
<rect x="648" y="443.2" width="13.4" height="9.3" fill="none" stroke="#1a1a1a" stroke-width="0.9"/>
<path d="M663,418 L668,424.4 L668,431" fill="none" stroke="#2a2a2a" stroke-width="0.9"/>
<path d="M597.3,461 L632.8,461 L632.8,475.6 L597.3,475.6 Z" fill="none" stroke="#2a2a2a" stroke-width="1.0"/>
<line x1="609.5" y1="461.0" x2="609.5" y2="475.6" stroke="#2a2a2a" stroke-width="1.0"/>
<line x1="598.0" y1="462.5" x2="609.0" y2="474.0" stroke="#2a2a2a" stroke-width="1.0"/>
<circle cx="604.5" cy="468.8" r="1.3" fill="#1a1a1a" stroke="#1a1a1a" stroke-width="0.5"/>
<line x1="609.5" y1="463.5" x2="632.8" y2="463.5" stroke="#2a2a2a" stroke-width="1.0"/>
<rect x="666.3" y="432.4" width="3.4" height="25.1" fill="none" stroke="#1a1a1a" stroke-width="1.1"/>
<path d="M669.7,429.5 L671.6,423.2 L685.6,423.2 L685.6,457 L671.6,457 L669.7,455" fill="none" stroke="#2a2a2a" stroke-width="1.1"/>
<line x1="671.6" y1="429.5" x2="685.6" y2="429.5" stroke="#2a2a2a" stroke-width="1.0"/>
<line x1="671.6" y1="449.7" x2="685.6" y2="449.7" stroke="#2a2a2a" stroke-width="1.1"/>
<line x1="671.6" y1="455.5" x2="685.0" y2="455.5" stroke="#2a2a2a" stroke-width="1.0"/>
<ellipse cx="672.3" cy="439.9" rx="2.3" ry="7" fill="none" stroke="#1a1a1a" stroke-width="1.1"/>
<ellipse cx="680.7" cy="438.9" rx="2.9" ry="6" fill="none" stroke="#1a1a1a" stroke-width="1.1"/>
<line x1="675.5" y1="424.0" x2="676.5" y2="449.0" stroke="#2a2a2a" stroke-width="0.6"/>
<line x1="682.0" y1="424.0" x2="684.0" y2="432.0" stroke="#2a2a2a" stroke-width="0.6"/>
<path d="M687.5,428.5 Q692.5,439 687.5,449.3 M691.9,428.5 L691.9,449.3" fill="none" stroke="#2a2a2a" stroke-width="1.0"/>
<path d="M687.5,428.5 L745.9,428.5 M687.5,449.3 L745.9,449.3" fill="none" stroke="#2a2a2a" stroke-width="1.3"/>
<path d="M704.4,429 Q706,439 704.4,449" fill="none" stroke="#2a2a2a" stroke-width="0.8"/>
<line x1="717.5" y1="428.5" x2="717.5" y2="449.3" stroke="#2a2a2a" stroke-width="1.0"/>
<circle cx="700" cy="429.2" r="0.8" fill="#1a1a1a" stroke="#1a1a1a" stroke-width="0.4"/>
<circle cx="700" cy="448.6" r="0.8" fill="#1a1a1a" stroke="#1a1a1a" stroke-width="0.4"/>
<circle cx="715" cy="429.2" r="0.8" fill="#1a1a1a" stroke="#1a1a1a" stroke-width="0.4"/>
<circle cx="715" cy="448.6" r="0.8" fill="#1a1a1a" stroke="#1a1a1a" stroke-width="0.4"/>
<circle cx="726.6" cy="429.2" r="0.8" fill="#1a1a1a" stroke="#1a1a1a" stroke-width="0.4"/>
<circle cx="726.6" cy="448.6" r="0.8" fill="#1a1a1a" stroke="#1a1a1a" stroke-width="0.4"/>
<circle cx="722.5" cy="432.3" r="1.0" fill="#1a1a1a" stroke="#1a1a1a" stroke-width="0.5"/>
<circle cx="722.5" cy="446" r="1.0" fill="#1a1a1a" stroke="#1a1a1a" stroke-width="0.5"/>
<path d="M736,430.5 L726,430.5 Q718,432 717.9,439.1 Q718,446.5 726,447.8 L736,447.8" fill="none" stroke="#2a2a2a" stroke-width="1.0"/>
<path d="M734.3,429.5 L746.9,429.5 L746.9,432.4 L751.7,432.4 L751.7,445.8 L746.9,445.8 L746.9,447.8 L734.3,447.8" fill="none" stroke="#2a2a2a" stroke-width="1.1"/>
<line x1="740.5" y1="430.0" x2="740.5" y2="447.0" stroke="#2a2a2a" stroke-width="1.0"/>
<line x1="743.5" y1="432.0" x2="743.5" y2="446.0" stroke="#2a2a2a" stroke-width="1.0"/>
<rect x="734.5" y="442.5" width="9" height="3.5" fill="none" stroke="#1a1a1a" stroke-width="1.2"/>
<line x1="739.5" y1="448.0" x2="739.5" y2="452.0" stroke="#2a2a2a" stroke-width="1.0"/>
<circle cx="750.7" cy="439.1" r="15.4" fill="none" stroke="#1a1a1a" stroke-width="0.9"/>
<line x1="870.5" y1="53.0" x2="870.5" y2="267.0" stroke="#8a8a8a" stroke-width="1.0"/>
<line x1="899.5" y1="53.0" x2="899.5" y2="262.0" stroke="#8a8a8a" stroke-width="1.0"/>
<line x1="918.5" y1="53.0" x2="918.5" y2="84.4" stroke="#8a8a8a" stroke-width="1.0"/>
<line x1="870.8" y1="59.5" x2="950.7" y2="59.5" stroke="#8a8a8a" stroke-width="1.0"/>
<polygon points="870.8,59.4 876.8,57.9 876.8,60.9" fill="#1a1a1a"/>
<polygon points="899.8,59.4 893.8,60.9 893.8,57.9" fill="#1a1a1a"/>
<polygon points="918.8,59.4 924.8,57.9 924.8,60.9" fill="#1a1a1a"/>
<g transform="translate(885.0,53.0) rotate(0) scale(0.63,1)"><text x="0" y="4.9" text-anchor="middle" font-size="14.5" fill="#1a1a1a">275</text></g>
<g transform="translate(937.8,53.0) rotate(0) scale(0.63,1)"><text x="0" y="4.9" text-anchor="middle" font-size="14.5" fill="#1a1a1a">172. 5</text></g>
<path d="M891,74.5 L908.6,74.5 Q910.6,74.5 910.6,76.5 L910.6,94.7 Q910.6,96.7 908.6,96.7 L891,96.7 Q889,96.7 889,94.7 L889,76.5 Q889,74.5 891,74.5 Z" fill="none" stroke="#2a2a2a" stroke-width="1.3"/>
<line x1="890.0" y1="77.5" x2="909.6" y2="77.5" stroke="#2a2a2a" stroke-width="1.0"/>
<circle cx="899.6" cy="88" r="8.7" fill="none" stroke="#1a1a1a" stroke-width="0.9"/>
<circle cx="899.6" cy="88" r="6.2" fill="none" stroke="#1a1a1a" stroke-width="1.2"/>
<circle cx="899.6" cy="88" r="2.9" fill="none" stroke="#1a1a1a" stroke-width="1.4"/>
<path d="M910.6,82.2 L913,82.2 Q918,82.2 918,87.5 Q918,92.8 913,92.8 L910.6,92.8" fill="none" stroke="#2a2a2a" stroke-width="1.2"/>
<circle cx="913.5" cy="87.5" r="2.5" fill="none" stroke="#1a1a1a" stroke-width="0.8"/>
<path d="M889,80.3 L882,80.3 Q878.3,82 878.3,88 L878.3,99.6 L889,99.6" fill="none" stroke="#2a2a2a" stroke-width="1.0"/>
<line x1="881.5" y1="84.0" x2="881.5" y2="98.0" stroke="#2a2a2a" stroke-width="1.0"/>
<rect x="889" y="96.7" width="14.4" height="23.1" fill="none" stroke="#1a1a1a" stroke-width="1.0"/>
<line x1="892.5" y1="97.0" x2="892.5" y2="120.0" stroke="#2a2a2a" stroke-width="1.0"/>
<rect x="903.4" y="101.5" width="12.6" height="15.5" fill="none" stroke="#1a1a1a" stroke-width="1.0"/>
<line x1="906.5" y1="102.0" x2="906.5" y2="116.5" stroke="#2a2a2a" stroke-width="1.3"/>
<line x1="909.0" y1="102.0" x2="909.0" y2="116.5" stroke="#2a2a2a" stroke-width="1.3"/>
<line x1="911.5" y1="102.0" x2="911.5" y2="116.5" stroke="#2a2a2a" stroke-width="1.3"/>
<line x1="914.0" y1="102.0" x2="914.0" y2="116.5" stroke="#2a2a2a" stroke-width="1.3"/>
<rect x="913.5" y="104.5" width="3" height="9.5" fill="none" stroke="#1a1a1a" stroke-width="0.9"/>
<line x1="880.3" y1="109.5" x2="918.0" y2="109.5" stroke="#2a2a2a" stroke-width="1.0"/>
<path d="M883.2,98.6 C882.4,102.8 880.2,117.3 878.3,123.7 C876.4,130.1 873.0,131.1 871.8,137.2 C870.6,143.2 870.4,152.8 871.0,160.0 C871.6,167.2 874.1,174.9 875.7,180.2 C877.3,185.5 879.9,188.2 880.7,192.0 C881.5,195.8 880.9,199.7 880.7,203.0 C880.5,206.3 879.7,210.5 879.5,212.0" fill="none" stroke="#2a2a2a" stroke-width="1.2"/>
<path d="M890.9,98.6 C890.2,102.1 888.6,113.4 887.0,119.8 C885.4,126.2 882.5,130.5 881.2,137.2 C879.9,143.9 878.5,154.2 879.3,160.0 C880.0,165.8 884.2,169.1 885.7,172.0 C887.2,174.9 887.8,176.8 888.2,177.7" fill="none" stroke="#2a2a2a" stroke-width="1.2"/>
<path d="M889.0,120.0 C888.2,122.9 885.0,130.5 884.0,137.2 C883.0,143.9 882.3,153.9 882.8,160.0 C883.3,166.1 886.3,171.7 887.0,174.0" fill="none" stroke="#2a2a2a" stroke-width="0.7"/>
<line x1="888.2" y1="177.7" x2="888.2" y2="224.1" stroke="#2a2a2a" stroke-width="1.1"/>
<line x1="895.5" y1="177.7" x2="895.5" y2="224.1" stroke="#2a2a2a" stroke-width="1.0"/>
<path d="M893.2,177.7 C894.3,178.6 897.5,180.1 900.0,183.0 C902.5,185.9 904.8,190.6 908.3,195.2 C911.8,199.8 918.1,205.7 920.8,210.3 C923.5,214.9 924.0,220.7 924.6,222.8" fill="none" stroke="#2a2a2a" stroke-width="1.1"/>
<rect x="889.5" y="174" width="4" height="4" fill="none" stroke="#1a1a1a" stroke-width="0.9"/>
<rect x="900.8" y="184" width="15" height="12.5" fill="none" stroke="#1a1a1a" stroke-width="1.0"/>
<line x1="904.0" y1="184.5" x2="904.0" y2="196.0" stroke="#2a2a2a" stroke-width="1.5"/>
<line x1="906.5" y1="184.5" x2="906.5" y2="196.0" stroke="#2a2a2a" stroke-width="1.5"/>
<line x1="909.0" y1="184.5" x2="909.0" y2="196.0" stroke="#2a2a2a" stroke-width="1.5"/>
<line x1="911.5" y1="184.5" x2="911.5" y2="196.0" stroke="#2a2a2a" stroke-width="1.5"/>
<line x1="914.0" y1="184.5" x2="914.0" y2="196.0" stroke="#2a2a2a" stroke-width="1.5"/>
<line x1="877.0" y1="190.5" x2="920.8" y2="190.5" stroke="#2a2a2a" stroke-width="1.0"/>
<rect x="920.8" y="186.5" width="15.1" height="37.6" fill="none" stroke="#1a1a1a" stroke-width="1.0"/>
<circle cx="925" cy="186" r="1.3" fill="none" stroke="#1a1a1a" stroke-width="0.8"/>
<path d="M879.4,212.8 L872.5,212.8 Q870.6,214 870.6,217 L870.6,224.1 L879.4,224.1 Z" fill="none" stroke="#2a2a2a" stroke-width="1.1"/>
<line x1="888.0" y1="212.5" x2="920.8" y2="212.5" stroke="#2a2a2a" stroke-width="1.0"/>
<path d="M875.7,224.1 L924.6,224.1 L924.6,227.4 L875.7,227.4 Z" fill="none" stroke="#2a2a2a" stroke-width="1.2"/>
<rect x="879.4" y="227.4" width="41.4" height="15.5" fill="none" stroke="#1a1a1a" stroke-width="1.0"/>
<line x1="879.4" y1="240.5" x2="920.8" y2="240.5" stroke="#2a2a2a" stroke-width="1.1"/>
<line x1="920.8" y1="224.5" x2="935.9" y2="224.5" stroke="#2a2a2a" stroke-width="1.0"/>
<line x1="870.8" y1="244.5" x2="935.0" y2="244.5" stroke="#2a2a2a" stroke-width="1.0"/>
<line x1="935.5" y1="186.0" x2="935.5" y2="267.0" stroke="#2a2a2a" stroke-width="1.0"/>
<line x1="870.8" y1="263.5" x2="935.0" y2="263.5" stroke="#2a2a2a" stroke-width="1.0"/>
<polygon points="870.8,263.0 876.8,261.5 876.8,264.5" fill="#1a1a1a"/>
<polygon points="899.8,263.0 893.8,264.5 893.8,261.5" fill="#1a1a1a"/>
<polygon points="899.8,263.0 905.8,261.5 905.8,264.5" fill="#1a1a1a"/>
<polygon points="935.0,263.0 929.0,264.5 929.0,261.5" fill="#1a1a1a"/>
<g transform="translate(885.8,256.8) rotate(0) scale(0.63,1)"><text x="0" y="4.9" text-anchor="middle" font-size="14.5" fill="#1a1a1a">271</text></g>
<g transform="translate(917.6,256.8) rotate(0) scale(0.63,1)"><text x="0" y="4.9" text-anchor="middle" font-size="14.5" fill="#1a1a1a">329</text></g>
<path d="M640.6,136.1 Q652,148 660,160" fill="none" stroke="#2a2a2a" stroke-width="0.9"/>
<path d="M655.5,162.4 Q672,166 682,179" fill="none" stroke="#2a2a2a" stroke-width="0.9" stroke-dasharray="6,2"/>
<line x1="687.0" y1="87.5" x2="756.0" y2="87.5" stroke="#777" stroke-width="1.0" stroke-dasharray="6,2,2,2"/>
<rect x="746" y="81.5" width="2" height="12.5" fill="#333" stroke="#1a1a1a" stroke-width="0"/>
</svg>
</body></html>
